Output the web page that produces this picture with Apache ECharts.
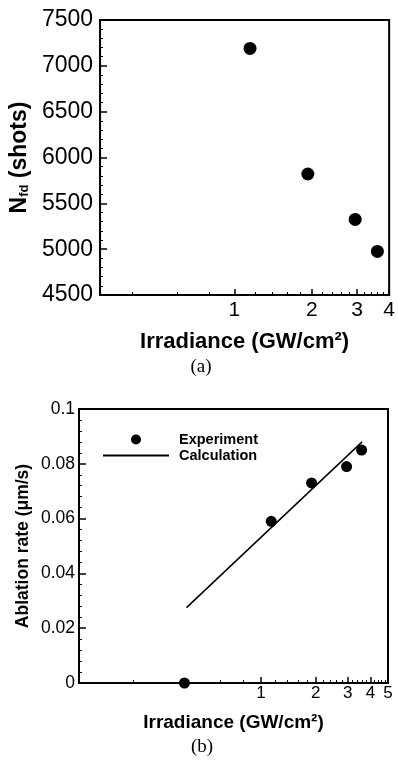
<!DOCTYPE html>
<html>
<head>
<meta charset="utf-8">
<script src="https://cdn.jsdelivr.net/npm/echarts@6/dist/echarts.min.js"></script>
<style>
  html, body { margin: 0; padding: 0; background: #fff; }
  #chart { width: 398px; height: 764px; }
</style>
</head>
<body>
<div id="chart"></div>
<script>
// (a) shots to failure vs irradiance
const irrA = [1.15, 1.93, 2.95, 3.6]
const shotsA = [7190, 5820, 5325, 4975]

// (b) ablation rate vs irradiance
const irrB = [0.38, 1.14, 1.9, 2.96, 3.58]
const rateB = [0, 0.059, 0.073, 0.079, 0.085]
const calcIrr = [0.39, 3.6]
const calcRate = [0.0275, 0.088]

// tick labels
const majorA = [1, 2, 3, 4]
const minorA = [0.4, 0.6, 0.8, 1.2, 1.4, 1.6, 1.8, 2.2, 2.4, 2.6, 2.8, 3.2, 3.4, 3.6, 3.8]
const majorB = [1, 2, 3, 4, 5]
const minorB = [0.2, 0.4, 0.6, 0.8, 1.2, 1.4, 1.6, 1.8, 2.2, 2.4, 2.6, 2.8, 3.2, 3.4, 3.6, 3.8, 4.2, 4.4, 4.6, 4.8]

const FONT = 'Arial, "Liberation Sans", sans-serif'

const zip = (xs, ys) => xs.map((x, i) => [x, ys[i]])

function majorAxis(grid, min, max, ticks, fontSize, margin, name, nameGap, nameSize) {
  return {
    type: 'log', gridIndex: grid, min: min, max: max, logBase: 10,
    position: 'bottom',
    axisLine: { show: true, lineStyle: { color: '#000', width: 2 } },
    axisTick: { show: true, inside: true, length: 6, customValues: ticks, lineStyle: { color: '#000', width: 1.5 } },
    axisLabel: { customValues: ticks, color: '#000', fontSize: fontSize, fontFamily: FONT, margin: margin },
    splitLine: { show: false },
    name: name, nameLocation: 'middle', nameGap: nameGap,
    nameTextStyle: { color: '#000', fontSize: nameSize, fontWeight: 'bold', fontFamily: FONT }
  }
}

function minorAxis(grid, min, max, ticks) {
  return {
    type: 'log', gridIndex: grid, min: min, max: max, logBase: 10,
    position: 'bottom',
    axisLine: { show: false },
    axisTick: { show: true, inside: true, length: 3, customValues: ticks, lineStyle: { color: '#000', width: 1 } },
    axisLabel: { show: false },
    splitLine: { show: false }
  }
}

const chart = echarts.init(document.getElementById('chart'), null, { renderer: 'canvas' })

chart.setOption({
  backgroundColor: '#fff',
  animation: false,
  grid: [
    { left: 95, top: 20, width: 297, height: 275, show: true, borderColor: '#000', borderWidth: 2, backgroundColor: 'transparent' },
    { left: 79, top: 409, width: 309, height: 274, show: true, borderColor: '#000', borderWidth: 2, backgroundColor: 'transparent' }
  ],
  legend: {
    data: [
      { name: 'Experiment' },
      { name: 'Calculation', itemStyle: { opacity: 0 } }
    ],
    orient: 'vertical',
    left: 97, top: 427,
    itemWidth: 66, itemHeight: 10, itemGap: 1,
    textStyle: { color: '#000', fontSize: 14.5, fontWeight: 'bold', fontFamily: FONT, padding: [0, 0, 0, 5] }
  },
  xAxis: [
    majorAxis(0, 0.3, 4, majorA, 21, 5, 'Irradiance (GW/cm²)', 36, 22),
    minorAxis(0, 0.3, 4, minorA),
    majorAxis(1, 0.1, 5, majorB, 17, 2, 'Irradiance (GW/cm²)', 30, 19),
    minorAxis(1, 0.1, 5, minorB)
  ],
  yAxis: [
    {
      type: 'value', gridIndex: 0, min: 4500, max: 7500, interval: 500,
      axisLine: { show: true, lineStyle: { color: '#000', width: 2 } },
      axisTick: { show: true, inside: true, length: 7, lineStyle: { color: '#000', width: 1.5 } },
      minorTick: { show: true, splitNumber: 5, length: 3, lineStyle: { color: '#000', width: 1 } },
      axisLabel: { color: '#000', fontSize: 23, fontFamily: FONT, margin: 7, formatter: v => String(v) },
      splitLine: { show: false },
      name: '{n|N}{s|fd}{n| (shots)}', nameLocation: 'middle', nameGap: 67,
      nameTextStyle: {
        rich: {
          n: { color: '#000', fontSize: 23, fontWeight: 'bold', fontFamily: FONT },
          s: { color: '#000', fontSize: 13, fontWeight: 'bold', fontFamily: FONT, verticalAlign: 'bottom', padding: [8, 0, 0, 0] }
        }
      }
    },
    {
      type: 'value', gridIndex: 1, min: 0, max: 0.1, interval: 0.02,
      axisLine: { show: true, lineStyle: { color: '#000', width: 2 } },
      axisTick: { show: true, inside: true, length: 7, lineStyle: { color: '#000', width: 1.5 } },
      minorTick: { show: true, splitNumber: 5, length: 3, lineStyle: { color: '#000', width: 1 } },
      axisLabel: { color: '#000', fontSize: 17.5, fontFamily: FONT, margin: 4 },
      splitLine: { show: false },
      name: 'Ablation rate (μm/s)', nameLocation: 'middle', nameGap: 47, nameMoveOverlap: false,
      nameTextStyle: { color: '#000', fontSize: 17.5, fontWeight: 'bold', fontFamily: FONT }
    }
  ],
  series: [
    {
      type: 'scatter', xAxisIndex: 0, yAxisIndex: 0,
      symbol: 'circle', symbolSize: 13, clip: false,
      itemStyle: { color: '#000', opacity: 1 },
      data: zip(irrA, shotsA)
    },
    {
      name: 'Experiment', type: 'scatter', xAxisIndex: 2, yAxisIndex: 1,
      symbol: 'circle', symbolSize: 11, clip: false,
      itemStyle: { color: '#000', opacity: 1 },
      data: zip(irrB, rateB)
    },
    {
      name: 'Calculation', type: 'line', xAxisIndex: 2, yAxisIndex: 1,
      symbol: 'none', showSymbol: false,
      lineStyle: { color: '#000', width: 1.5 },
      itemStyle: { color: '#000' },
      data: zip(calcIrr, calcRate)
    }
  ],
  graphic: [
    { type: 'text', x: 201, y: 367, style: { text: '(a)', align: 'center', verticalAlign: 'middle', fill: '#000', font: '19px "Liberation Serif", "Times New Roman", serif' } },
    { type: 'text', x: 202, y: 747, style: { text: '(b)', align: 'center', verticalAlign: 'middle', fill: '#000', font: '19px "Liberation Serif", "Times New Roman", serif' } }
  ]
})
</script>
</body>
</html>
